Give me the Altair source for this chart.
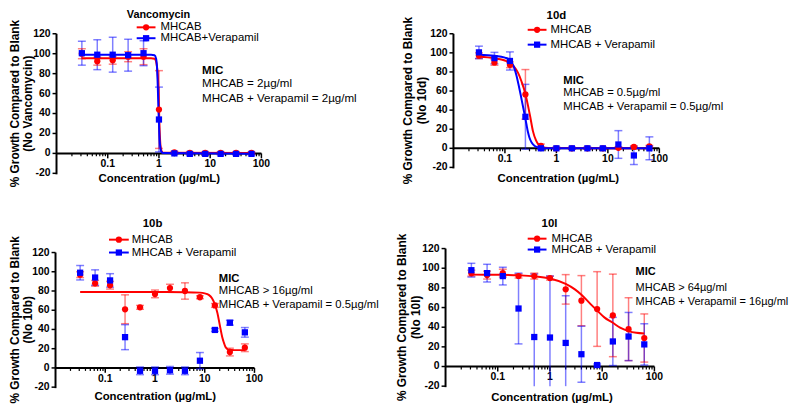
import altair as alt
import pandas as pd

FONT = "Liberation Sans"
RED = "#FF0000"
BLUE = "#0000FF"
SERIES = ["MHCAB", "MHCAB + Verapamil"]

# concentrations (ug/mL), two-fold dilution series
CONC = [0.03125, 0.0625, 0.125, 0.25, 0.5, 1, 2, 4, 8, 16, 32, 64]

# ---------------- Vancomycin ----------------
VAN_RED_MEAN = [100, 92.5, 93.5, 97, 97, 44, 1, 0.5, 0.5, 0.5, 0.5, 0.5]
VAN_RED_ERR = [5, 4, 4, 5, 8, 39, 1, 1, 1, 1, 1, 1]
VAN_BLUE_MEAN = [100.5, 99, 99, 98.5, 100.5, 34, 0, -0.5, -0.5, -0.5, -0.5, -0.5]
VAN_BLUE_ERR = [12, 15, 17.5, 16, 12.5, 32.5, 1, 1, 1, 1, 1, 1]
VAN_RED_FIT_X = [0.03125, 0.7, 0.82, 0.88, 0.92, 0.95, 0.98, 1.0, 1.03, 1.07, 1.12, 1.2, 64]
VAN_RED_FIT_Y = [95.5, 95.5, 95, 92, 86, 78, 62, 46, 24, 8, 2.5, 0.6, 0.3]
VAN_BLUE_FIT_X = [0.03125, 0.7, 0.82, 0.88, 0.92, 0.95, 0.98, 1.0, 1.03, 1.07, 1.12, 1.2, 64]
VAN_BLUE_FIT_Y = [99, 99, 98.5, 95, 85, 66, 42, 30, 14, 5, 1.5, 0.3, -0.3]

# ---------------- 10d ----------------
D10_RED_MEAN = [97, 90, 87.5, 56.5, 2.5, 0, 0, 0, 0, 0.5, 1.5, 2]
D10_RED_ERR = [3, 3, 3, 26, 2, 1, 1, 1, 1, 1, 1, 1]
D10_BLUE_MEAN = [100.5, 94.5, 91.5, 33, 0, 0, 0, 0, 0, 4, -7.5, 0]
D10_BLUE_ERR = [6.5, 6, 9.5, 34, 1, 1, 1, 1, 1, 14.5, 9.5, 12]
D10_RED_FIT_X = [0.03125, 0.0625, 0.1, 0.125, 0.15, 0.18, 0.21, 0.25, 0.28, 0.31, 0.35, 0.4, 0.45, 0.5, 0.6, 0.8, 64]
D10_RED_FIT_Y = [96, 94.5, 92, 89.5, 85.5, 79, 70, 57, 45, 33, 18, 8.5, 3.8, 2, 0.7, 0.2, 0]
D10_BLUE_FIT_X = [0.03125, 0.0625, 0.1, 0.125, 0.15, 0.168, 0.185, 0.204, 0.22, 0.24, 0.26, 0.28, 0.3, 0.33, 0.38, 0.45, 0.6, 64]
D10_BLUE_FIT_Y = [98, 97, 95, 92.5, 85, 76, 66, 55, 46, 36, 26, 17, 11, 6, 2.5, 0.8, 0.1, 0]

# ---------------- 10b ----------------
B10_RED_MEAN = [97, 88, 86, 61, 63, 77, 83, 80, 73.5, 65, 16.5, 21]
B10_RED_ERR = [3, 3, 4, 15, 2, 4, 4, 8.5, 1.5, 2, 4, 4]
B10_BLUE_MEAN = [99, 94, 91, 32, -3, -3, -2.5, -3, 7.5, 39.5, 47, 37]
B10_BLUE_ERR = [7.5, 8, 7, 13, 4, 4, 4, 4, 8.5, 1.5, 2.5, 5]
B10_RED_FIT_X = [0.03125, 1, 4, 8, 10, 12, 14, 16, 18, 20, 22.5, 24, 26, 28, 30.5, 40, 64]
B10_RED_FIT_Y = [79, 79, 78.8, 78.3, 77.5, 76, 72.5, 66, 57, 45, 32, 27, 22, 20, 18.8, 18.5, 18.5]

# ---------------- 10l ----------------
L10_RED_MEAN = [95, 93, 95, 92, 92, 90, 78.5, 67, 58.5, 52, 38, 29]
L10_RED_ERR = [3, 4, 4, 2, 3, 2, 15, 25.5, 38, 42, 32, 24.5]
L10_BLUE_MEAN = [98, 95, 92, 59, 30, 29.5, 24, 12.5, 1.5, 25.5, 30.5, 22.5]
L10_BLUE_ERR = [7, 9, 9, 36, 64, 62.5, 48, 28.5, 1, 24.5, 24.5, 21]
L10_RED_FIT_X = [0.03125, 0.1, 0.25, 0.5, 1, 2, 3, 4, 6, 8, 11, 16, 22, 32, 45, 64]
L10_RED_FIT_Y = [93.5, 93.3, 92.8, 91.8, 89.5, 84, 78.5, 73, 63.5, 57, 50, 44.5, 39.5, 36, 34.3, 33.6]

Y_TICKS = [-20, 0, 20, 40, 60, 80, 100, 120]
Y_TICK_LABELS = ["-20", "0", "20", "40", "60", "80", "100", "120"]
X_MAJOR = [0.1, 1, 10, 100]
X_MAJOR_LABELS = ["0.1", "1", "10", "100"]
X_MINOR = [round(m * 10 ** e, 6) for e in range(-2, 2) for m in range(2, 10)]

W, H = 792, 397

PANELS = [
    dict(title="Vancomycin", ytitle=["% Growth Compared to Blank", "(No Vancomycin)"],
         legend=["MHCAB", "MHCAB+Verapamil"],
         mic=["MIC", "MHCAB = 2\u00b5g/ml", "MHCAB + Verapamil = 2\u00b5g/ml"], micsize=11.7,
         red=(VAN_RED_MEAN, VAN_RED_ERR), blue=(VAN_BLUE_MEAN, VAN_BLUE_ERR),
         fits=[(VAN_RED_FIT_X, VAN_RED_FIT_Y, SERIES[0]), (VAN_BLUE_FIT_X, VAN_BLUE_FIT_Y, SERIES[1])],
         xr=[49, 256], yr=[165, 24], tpos=(152, 5.5), tsize=11, ytx=(7, 20),
         leg=(130, 149, 154, 17.5, 28.5), micpos=(196, [61, 74, 88.5]), xtpos=(152.8, 171)),
    dict(title="10d", ytitle=["% Growth Compared to Blank", "(No 10d)"],
         legend=["MHCAB", "MHCAB + Verapamil"],
         mic=["MIC", "MHCAB = 0.5\u00b5g/ml", "MHCAB + Verapamil = 0.5\u00b5g/ml"], micsize=11.4,
         red=(D10_RED_MEAN, D10_RED_ERR), blue=(D10_BLUE_MEAN, D10_BLUE_ERR),
         fits=[(D10_RED_FIT_X, D10_RED_FIT_Y, SERIES[0]), (D10_BLUE_FIT_X, D10_BLUE_FIT_Y, SERIES[1])],
         xr=[450, 658], yr=[159, 24], tpos=(554, 6.5), tsize=11.5, ytx=(404, 418),
         leg=(525, 544, 548, 20, 35), micpos=(561, [72, 84.3, 98]), xtpos=(556, 171)),
    dict(title="10b", ytitle=["% Growth Compared to Blank", "(No 10b)"],
         legend=["MHCAB", "MHCAB + Verapamil"],
         mic=["MIC", "MHCAB > 16\u00b5g/ml", "MHCAB + Verapamil = 0.5\u00b5g/ml"], micsize=11.4,
         red=(B10_RED_MEAN, B10_RED_ERR), blue=(B10_BLUE_MEAN, B10_BLUE_ERR),
         fits=[(B10_RED_FIT_X, B10_RED_FIT_Y, SERIES[0])],
         xr=[48, 249], yr=[381, 245], tpos=(146, 216), tsize=11.5, ytx=(7, 20),
         leg=(102, 122, 125, 232, 245), micpos=(213, [272, 284, 298]), xtpos=(148.7, 391)),
    dict(title="10l", ytitle=["% Growth Compared to Blank", "(No 10l)"],
         legend=["MHCAB", "MHCAB + Verapamil"],
         mic=["MIC", "MHCAB > 64\u00b5g/ml", "MHCAB + Verapamil = 16\u00b5g/ml"], micsize=11.1,
         red=(L10_RED_MEAN, L10_RED_ERR), blue=(L10_BLUE_MEAN, L10_BLUE_ERR),
         fits=[(L10_RED_FIT_X, L10_RED_FIT_Y, SERIES[0])],
         xr=[442, 653], yr=[380, 241], tpos=(547, 216), tsize=11.5, ytx=(398.5, 412),
         leg=(525, 544, 549, 231, 242), micpos=(634, [265, 280.7, 295.3]), xtpos=(549.5, 392)),
]

EMPTY = alt.Data(values=[{}])


def txt(s, x, y, size=11.5, weight="normal", align="left", angle=0):
    return alt.Chart(EMPTY).mark_text(
        text=s, font=FONT, fontSize=size, fontWeight=weight, align=align,
        baseline="middle", angle=angle, color="black"
    ).encode(x=alt.value(x), y=alt.value(y))


def make_panel(p):
    xs = alt.Scale(type="log", domain=[0.01, 100], range=p["xr"])
    ys = alt.Scale(domain=[-20, 120], range=p["yr"], clamp=True, nice=False, zero=False)
    x0, x1 = p["xr"]
    ybot, ytop = p["yr"]
    y_zero = ybot + 20 / 140 * (ytop - ybot)
    col = alt.Color("series:N", scale=alt.Scale(domain=SERIES, range=[RED, BLUE]), legend=None)
    shp = alt.Shape("series:N", scale=alt.Scale(domain=SERIES, range=["circle", "square"]), legend=None)

    pts = pd.DataFrame({
        "conc": CONC + CONC,
        "mean": list(p["red"][0]) + list(p["blue"][0]),
        "err": list(p["red"][1]) + list(p["blue"][1]),
        "series": [SERIES[0]] * len(CONC) + [SERIES[1]] * len(CONC),
    })
    fit_rows = []
    for fx, fy, s in p["fits"]:
        for a, b in zip(fx, fy):
            fit_rows.append({"conc": a, "fit": b, "series": s})
    fits = pd.DataFrame(fit_rows)

    X = alt.X("conc:Q", scale=xs, axis=None)
    layers = []

    # ---- axes drawn as marks ----
    xmaj = pd.DataFrame({"v": X_MAJOR, "lab": X_MAJOR_LABELS})
    xmin = pd.DataFrame({"v": X_MINOR})
    ytk = pd.DataFrame({"v": Y_TICKS, "lab": Y_TICK_LABELS})
    layers.append(alt.Chart(EMPTY).mark_rule(color="black", strokeWidth=2).encode(
        x=alt.value(x0), x2=alt.value(x1), y=alt.value(y_zero)))
    layers.append(alt.Chart(EMPTY).mark_rule(color="black", strokeWidth=2).encode(
        x=alt.value(x0), y=alt.value(ybot + 1), y2=alt.value(ytop)))
    layers.append(alt.Chart(xmin).mark_rule(color="black", strokeWidth=1.2).encode(
        x=alt.X("v:Q", scale=xs, axis=None), y=alt.value(y_zero), y2=alt.value(y_zero + 3)))
    layers.append(alt.Chart(xmaj).mark_rule(color="black", strokeWidth=1.5).encode(
        x=alt.X("v:Q", scale=xs, axis=None), y=alt.value(y_zero), y2=alt.value(y_zero + 5)))
    layers.append(alt.Chart(xmaj).mark_text(
        font=FONT, fontSize=10.5, fontWeight="bold", baseline="top", align="center", color="black"
    ).encode(x=alt.X("v:Q", scale=xs, axis=None), y=alt.value(y_zero + 6), text="lab:N"))
    layers.append(alt.Chart(ytk).mark_rule(color="black", strokeWidth=1.5).encode(
        y=alt.Y("v:Q", scale=ys, axis=None), x=alt.value(x0 - 4), x2=alt.value(x0)))
    layers.append(alt.Chart(ytk).mark_text(
        font=FONT, fontSize=10.5, fontWeight="bold", baseline="middle", align="right", color="black"
    ).encode(y=alt.Y("v:Q", scale=ys, axis=None), x=alt.value(x0 - 6), text="lab:N"))

    # ---- data ----
    bars = alt.Chart(pts).transform_calculate(
        lo="datum.mean - datum.err", hi="datum.mean + datum.err"
    ).mark_rule(strokeWidth=1.5, opacity=0.5).encode(
        x=X, y=alt.Y("lo:Q", scale=ys, axis=None), y2="hi:Q", color=col
    )
    caps = alt.Chart(pts).transform_calculate(
        lo="datum.mean - datum.err", hi="datum.mean + datum.err"
    ).transform_fold(["lo", "hi"], as_=["end", "yv"]).transform_filter(
        "datum.yv >= -20"
    ).mark_rule(strokeWidth=1.5, opacity=0.5, xOffset=-4, x2Offset=4).encode(
        x=X, x2="conc:Q", y=alt.Y("yv:Q", scale=ys, axis=None), color=col
    )
    curves = alt.Chart(fits).mark_line(strokeWidth=2, interpolate="monotone").encode(
        x=X, y=alt.Y("fit:Q", scale=ys, axis=None), color=col
    )
    points = alt.Chart(pts).mark_point(filled=True, opacity=1, size=40).encode(
        x=X, y=alt.Y("mean:Q", scale=ys, axis=None), color=col, shape=shp,
    )
    layers += [bars, caps, curves, points]

    # legend
    lx1, lx2, tx, ya, yb = p["leg"]
    for lab, yy, c, sh in [(p["legend"][0], ya, RED, "circle"),
                           (p["legend"][1], yb, BLUE, "square")]:
        layers.append(alt.Chart(EMPTY).mark_rule(color=c, strokeWidth=2).encode(
            x=alt.value(lx1), x2=alt.value(lx2), y=alt.value(yy)))
        layers.append(alt.Chart(EMPTY).mark_point(shape=sh, filled=True, size=40, color=c, opacity=1).encode(
            x=alt.value((lx1 + lx2) / 2), y=alt.value(yy)))
        layers.append(txt(lab, tx, yy, size=11.5))

    # title
    layers.append(txt(p["title"], p["tpos"][0], p["tpos"][1], size=p["tsize"], weight="bold", align="center"))
    # MIC annotation
    mx, mys = p["micpos"]
    for i, (line, yy) in enumerate(zip(p["mic"], mys)):
        layers.append(txt(line, mx, yy, size=p["micsize"], weight="bold" if i == 0 else "normal"))
    # axis titles
    layers.append(txt("Concentration (\u00b5g/mL)", p["xtpos"][0], p["xtpos"][1], size=11.5,
                      weight="bold", align="center"))
    yc = (ybot + ytop) / 2
    for line, xx in zip(p["ytitle"], p["ytx"]):
        layers.append(txt(line, xx, yc, size=12, weight="bold", align="center", angle=270))

    return alt.layer(*layers)


chart = alt.layer(*[make_panel(p) for p in PANELS]).resolve_scale(
    x="independent", y="independent"
).properties(
    width=W, height=H, padding=0, autosize=alt.AutoSizeParams(type="none")
).configure_view(stroke=None)

chart.save("out.html", embed_options={"renderer": "svg", "actions": False})
